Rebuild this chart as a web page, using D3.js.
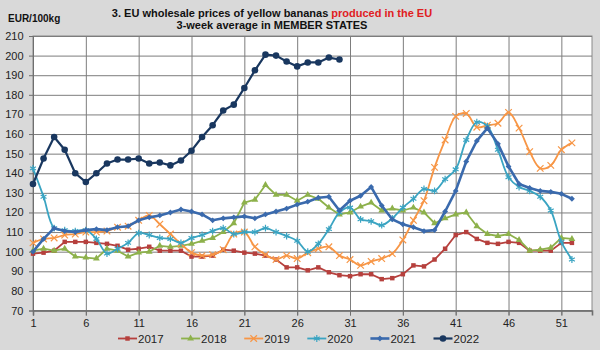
<!DOCTYPE html>
<html>
<head>
<meta charset="utf-8">
<title>EU wholesale prices of yellow bananas</title>
<script src="https://cdn.jsdelivr.net/npm/d3@7"></script>
<style>
  body { margin: 0; background: #d9d9d9; }
  svg { display: block; font-family: Arial, "Liberation Sans", sans-serif; }
</style>
</head>
<body>
<script>
// values, EUR/100kg by week
var years = ["2017", "2018", "2019", "2020", "2021", "2022"];

var p2017 = [99, 99.5, 100.5, 105, 105, 105, 104.5, 104, 103, 101, 101.5, 102.5, 100.5, 100.5, 100.5, 97.5, 97.5, 98, 101, 100.5,
  99.5, 99, 98, 96, 92, 92, 90.5, 92, 89.5, 88, 87.5, 88.5, 88.5, 86, 86.5, 88.5, 93, 92.5, 96, 101.5,
  108.5, 110, 106.5, 104.5, 104, 105, 104.5, 100.5, 100.5, 100.5, 104.5, 104.5];
var p2018 = [100.5, 101.5, 100.5, 101.5, 97.5, 97, 96.5, 101.5, 100.5, 97.5, 99.5, 100, 103, 102.5, 103, 104, 105.5, 107, 110, 114.5,
  125, 126.5, 134, 129, 129, 126, 129, 127, 122.5, 119, 120, 123, 125, 121, 122, 121, 122.5, 120, 114.5, 117,
  119, 120, 113, 109, 108, 109, 106, 100.5, 101, 102, 107, 106.5];
var p2019 = [104.5, 106.5, 107, 108.5, 109, 110, 110, 110.5, 112.5, 113, 116, 118.5, 114, 109, 104, 99.5, 98, 98.5, 101, 109,
  110, 102.5, 98.5, 96, 98, 96.5, 99.5, 101.5, 102.5, 98, 96, 93, 95, 96.5, 99, 106, 116, 126, 143, 157,
  169, 170.5, 163.5, 164.5, 165.5, 171, 163, 151, 142.5, 144, 152, 155.5];
var p2020 = [142.5, 128, 112, 111, 110.5, 111, 106.5, 99, 101.5, 104.5, 109.5, 108.5, 107, 106.5, 104.5, 107, 108.5, 110.5, 112, 109,
  110, 110, 112, 110, 108, 105.5, 100, 104, 111.5, 120, 122.5, 116.5, 115.5, 113.5, 117, 122.5, 127, 132, 131, 137,
  142, 157, 166, 164, 152, 138, 133, 131, 128, 121, 105, 96];
var p2021 = [100, 106.5, 112, 110.5, 110, 111, 111.5, 111, 112.5, 113, 116, 117.5, 118.5, 120, 121.5, 120.5, 119, 116, 117, 117.5,
  118, 117, 119, 120.5, 122, 124, 125.5, 127.5, 128, 121, 126, 128.5, 133, 123.5, 116.5, 114, 112.5, 110.5, 111, 120.5,
  131, 146, 156.5, 163, 155, 143.5, 134.5, 132.5, 131, 130.5, 129.5, 127];
var p2022 = [134.5, 147.5, 158.5, 152, 140, 135.5, 140, 145, 147, 147, 147.5, 145, 145.5, 144, 146.5, 151.5, 158.5, 164.5, 172, 175,
  183.5, 192.5, 200.5, 200, 197, 194.5, 196.5, 196.5, 199, 198];

var xTicks = [1, 6, 11, 16, 21, 26, 31, 36, 41, 46, 51];
var yTicks = [70, 80, 90, 100, 110, 120, 130, 140, 150, 160, 170, 180, 190, 200, 210];

var series = [
  {year: years[0], values: p2017, color: "#b6403d", marker: "square", width: 1.8, smooth: false},
  {year: years[1], values: p2018, color: "#8db14b", marker: "triangle", width: 1.8, smooth: false},
  {year: years[2], values: p2019, color: "#f79646", marker: "times", width: 1.8, smooth: true},
  {year: years[3], values: p2020, color: "#3aa4c2", marker: "asterisk", width: 1.8, smooth: true},
  {year: years[4], values: p2021, color: "#3a6aad", marker: "diamond", width: 2.6, smooth: false},
  {year: years[5], values: p2022, color: "#19375f", marker: "circle", width: 2.2, smooth: false}
];

var width = 600, height = 350;
var plot = {left: 33, top: 36, right: 592, bottom: 310.5};

var x = d3.scaleLinear().domain([1, 53.9]).range([plot.left, plot.right]);
var y = d3.scaleLinear().domain([70, 210]).range([plot.bottom, plot.top]);

var svg = d3.select("body").append("svg")
    .attr("width", width)
    .attr("height", height);

svg.append("rect")
    .attr("width", width).attr("height", height)
    .attr("fill", "#d9d9d9");

// plot area
svg.append("rect")
    .attr("x", plot.left).attr("y", plot.top)
    .attr("width", plot.right - plot.left)
    .attr("height", plot.bottom - plot.top)
    .attr("fill", "#fff")
    .attr("stroke", "#8a8a8a");

// horizontal grid
svg.append("g")
    .attr("transform", "translate(" + plot.left + ",0)")
    .call(d3.axisLeft(y).tickValues(yTicks).tickSize(-(plot.right - plot.left)).tickFormat(""))
    .call(function(g) {
      g.select(".domain").remove();
      g.selectAll("line").attr("stroke", "#7d7d7d");
    });

// vertical grid, running past the axis as tick marks
svg.append("g")
    .attr("transform", "translate(0," + (plot.bottom + 5) + ")")
    .call(d3.axisBottom(x).tickValues(xTicks).tickSize(-(plot.bottom + 5 - plot.top)).tickFormat(""))
    .call(function(g) {
      g.select(".domain").remove();
      g.selectAll("line").attr("stroke", "#7d7d7d");
    });

// y axis
svg.append("g")
    .attr("transform", "translate(" + plot.left + ",0)")
    .call(d3.axisLeft(y).tickValues(yTicks).tickSize(4).tickPadding(5.5))
    .call(function(g) {
      g.select(".domain").attr("stroke", "#6f6f6f");
      g.selectAll("line").attr("stroke", "#6f6f6f");
      g.selectAll("text").attr("font-size", 11).attr("fill", "#222");
    });

// x axis
svg.append("g")
    .attr("transform", "translate(0," + plot.bottom + ")")
    .call(d3.axisBottom(x).tickValues(xTicks).tickSize(5).tickPadding(4))
    .call(function(g) {
      g.select(".domain").attr("stroke", "#6f6f6f").attr("stroke-width", 1.6);
      g.selectAll("line").attr("stroke", "#6f6f6f");
      g.selectAll("text").attr("font-size", 11).attr("fill", "#222");
    });

function symbolPath(name) {
  if (name === "square") return d3.symbol(d3.symbolSquare, 20)();
  if (name === "triangle") return d3.symbol(d3.symbolTriangle, 20)();
  if (name === "times") return d3.symbol(d3.symbolTimes || d3.symbolCross, 30)();
  if (name === "asterisk") return d3.symbol(d3.symbolAsterisk || d3.symbolCross, 32)();
  if (name === "diamond") return d3.symbol(d3.symbolSquare, 17)();
  return d3.symbol(d3.symbolCircle, 34)();
}

function isStroked(s) {
  return s.marker === "times" || s.marker === "asterisk";
}

// the lines and their markers
series.forEach(function(s) {
  var line = d3.line()
      .x(function(d, i) { return x(i + 1); })
      .y(function(d) { return y(d); })
      .curve(s.smooth ? d3.curveCatmullRom.alpha(0.5) : d3.curveLinear);

  var g = svg.append("g").attr("class", "series");

  g.append("path")
      .datum(s.values)
      .attr("fill", "none")
      .attr("stroke", s.color)
      .attr("stroke-width", s.width)
      .attr("stroke-linejoin", "round")
      .attr("d", line);

  g.selectAll(".pt")
      .data(s.values)
    .enter().append("path")
      .attr("class", "pt")
      .attr("d", symbolPath(s.marker))
      .attr("fill", isStroked(s) ? "none" : s.color)
      .attr("stroke", isStroked(s) ? s.color : "none")
      .attr("stroke-width", 1.2)
      .attr("transform", function(d, i) {
        return "translate(" + x(i + 1) + "," + y(d) + ")" + (s.marker === "diamond" ? " rotate(45)" : "");
      });
});

// title
var title = svg.append("text")
    .attr("x", 272).attr("y", 17)
    .attr("text-anchor", "middle")
    .attr("font-size", 11).attr("font-weight", "bold");
title.append("tspan").attr("fill", "#111").text("3. EU wholesale prices of yellow bananas ");
title.append("tspan").attr("fill", "#e0201f").text("produced in the EU");

svg.append("text")
    .attr("x", 272).attr("y", 29)
    .attr("text-anchor", "middle")
    .attr("font-size", 11).attr("font-weight", "bold").attr("fill", "#111")
    .text("3-week average in MEMBER STATES");

svg.append("text")
    .attr("x", 8).attr("y", 22)
    .attr("font-size", 10).attr("font-weight", "bold").attr("fill", "#111")
    .text("EUR/100kg");

// legend
var legend = svg.append("g")
    .selectAll("g")
    .data(series)
  .enter().append("g")
    .attr("transform", function(d, i) { return "translate(" + (118 + i * 63.1) + ",338.5)"; });

legend.append("line")
    .attr("x1", 0).attr("x2", 19)
    .attr("stroke", function(d) { return d.color; })
    .attr("stroke-width", function(d) { return d.width; });

legend.append("path")
    .attr("d", function(d) { return symbolPath(d.marker); })
    .attr("fill", function(d) { return isStroked(d) ? "none" : d.color; })
    .attr("stroke", function(d) { return isStroked(d) ? d.color : "none"; })
    .attr("stroke-width", 1.2)
    .attr("transform", function(d) { return "translate(9.5,0)" + (d.marker === "diamond" ? " rotate(45)" : ""); });

legend.append("text")
    .attr("x", 20).attr("dy", "0.36em")
    .attr("font-size", 11.5).attr("fill", "#222")
    .text(function(d) { return d.year; });
</script>
</body>
</html>
